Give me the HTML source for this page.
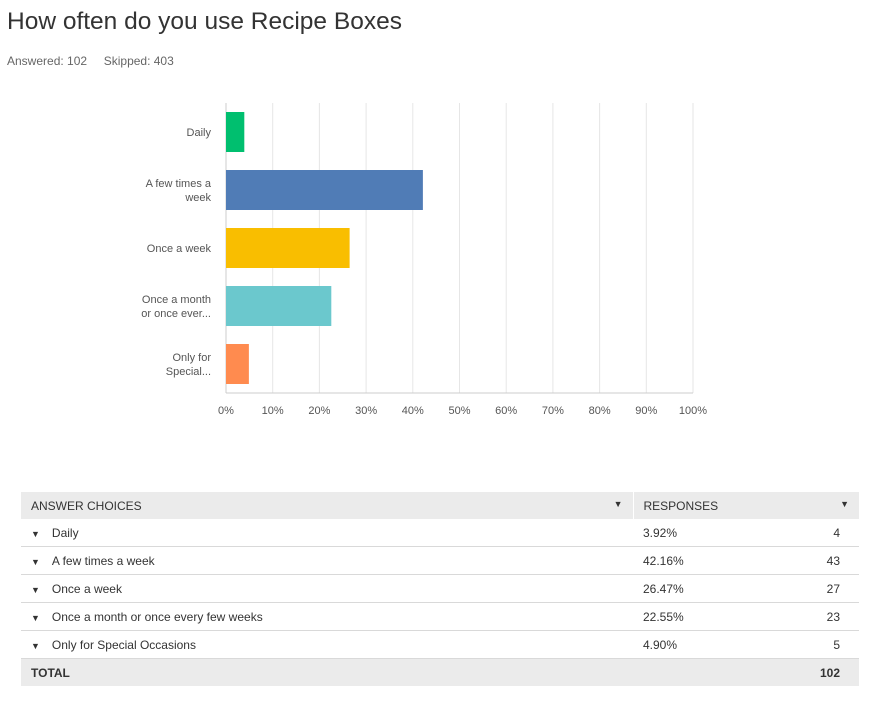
<!DOCTYPE html>
<html><head><meta charset="utf-8"><style>
body{margin:0;width:872px;height:707px;background:#fff;font-family:"Liberation Sans",sans-serif;color:#333;position:relative;overflow:hidden}
.t{position:absolute}
table{position:absolute;left:21px;top:492px;width:838px;border-collapse:collapse;font-size:12px;table-layout:fixed}
td{height:27px;padding:0 10px;border-bottom:1px solid #d9d9d9;white-space:nowrap}
tr.h td{background:#ebebeb;border-bottom:none}
tr.tot td{background:#ebebeb;border-bottom:none;font-weight:bold}
.c2{border-left:1px solid #fff}
.n{text-align:right;padding-right:19px}
.ar{font-size:9px;margin-right:12px;color:#333}
</style></head><body>
<div class="t" style="left:7px;top:8px;font-size:24.5px;color:#333">How often do you use Recipe Boxes</div>
<div class="t" style="left:7px;top:54px;font-size:12px;color:#666">Answered: 102 &nbsp;&nbsp;&nbsp; Skipped: 403</div>
<svg id="chart" class="t" style="left:0;top:0" width="872" height="430"></svg>
<table>
<colgroup><col style="width:612px"><col style="width:130px"><col style="width:96px"></colgroup>
<tr class="h"><td>ANSWER CHOICES<span style="float:right;font-size:9px">▼</span></td><td class="c2" colspan="2">RESPONSES<span style="float:right;font-size:9px">▼</span></td></tr>
<tr><td><span class="ar">▼</span>Daily</td><td>3.92%</td><td class="n">4</td></tr>
<tr><td><span class="ar">▼</span>A few times a week</td><td>42.16%</td><td class="n">43</td></tr>
<tr><td><span class="ar">▼</span>Once a week</td><td>26.47%</td><td class="n">27</td></tr>
<tr><td><span class="ar">▼</span>Once a month or once every few weeks</td><td>22.55%</td><td class="n">23</td></tr>
<tr><td><span class="ar">▼</span>Only for Special Occasions</td><td>4.90%</td><td class="n">5</td></tr>
<tr class="tot"><td>TOTAL</td><td></td><td class="n">102</td></tr>
</table>
<script>
const categories=[["Daily"],["A few times a","week"],["Once a week"],["Once a month","or once ever..."],["Only for","Special..."]];
const values=[3.92,42.16,26.47,22.55,4.90];
const colors=["#00bf6f","#507cb6","#f9be00","#6bc8cd","#ff8b4f"];
const ticks=[0,10,20,30,40,50,60,70,80,90,100];
const NS="http://www.w3.org/2000/svg";
const svg=document.getElementById('chart');
const x0=226,W=467,top0=103,band=58,bh=40;
const xs=v=>x0+v/100*W;
function mk(t,a){const e=document.createElementNS(NS,t);for(const k in a)e.setAttribute(k,a[k]);svg.appendChild(e);return e;}
const bottom=top0+band*categories.length;
ticks.forEach(t=>{
 const l=mk('line',{x1:xs(t),x2:xs(t),y1:top0,y2:bottom,stroke:t===0?'#ccc':'#e6e6e6','stroke-width':1});
 
 
 const tx=mk('text',{x:xs(t),y:bottom+21,'text-anchor':'middle','font-size':11,fill:'#555'});
 tx.textContent=t+'%';
 
 
});
const ax=mk('line',{x1:x0,x2:xs(100),y1:bottom,y2:bottom,stroke:'#ccc'});


values.forEach((v,i)=>{
 const y=top0+i*band+(band-bh)/2;
 const r=mk('rect',{x:x0,y:y,width:xs(v)-x0,height:bh,fill:colors[i]});
 
 
 const lines=categories[i];
 const cy=y+bh/2;
 lines.forEach((s,j)=>{
  const tx=mk('text',{x:211,y:cy+4+(j-(lines.length-1)/2)*14,'text-anchor':'end','font-size':11,fill:'#555'});
  tx.textContent=s;
  
  
 });
});
</script>
</body></html>
